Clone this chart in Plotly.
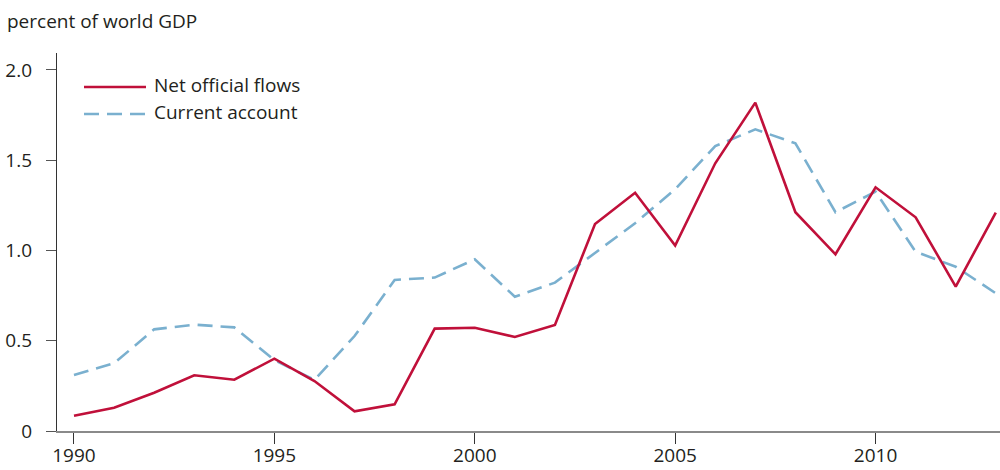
import plotly.graph_objects as go

years = list(range(1990, 2014))
net_official_flows = [0.085, 0.129, 0.212, 0.309, 0.284, 0.401, 0.277, 0.109, 0.148, 0.567,
                      0.572, 0.521, 0.587, 1.147, 1.320, 1.027, 1.483, 1.819, 1.212, 0.979,
                      1.350, 1.184, 0.800, 1.210]
current_account = [0.310, 0.375, 0.563, 0.589, 0.574, 0.393, 0.283, 0.526, 0.837, 0.850,
                   0.951, 0.744, 0.822, 0.984, 1.151, 1.340, 1.578, 1.671, 1.594, 1.212,
                   1.326, 0.993, 0.910, 0.763]
series_names = ["Net official flows", "Current account"]
x_ticks = [1990, 1995, 2000, 2005, 2010]
y_ticks = [0, 0.5, 1.0, 1.5, 2.0]
y_tick_labels = ["0", "0.5", "1.0", "1.5", "2.0"]

RED = "#C0103A"
BLUE = "#7AB0CF"
TEXT = "#231F20"
FONT = "Open Sans"
FS = 19

fig = go.Figure()
fig.add_trace(go.Scatter(x=years, y=current_account, mode="lines", name=series_names[1],
                         line=dict(color=BLUE, width=2.6, dash="15px,8px"), showlegend=False))
fig.add_trace(go.Scatter(x=years, y=net_official_flows, mode="lines", name=series_names[0],
                         line=dict(color=RED, width=2.6), showlegend=False))

# manual legend (long line samples as in the reference)
W, H = 943.0, 378.0
def px(x):
    return (x - 57) / W
def py(y):
    return (431 - y) / H

fig.add_shape(type="line", xref="paper", yref="paper", x0=px(84), x1=px(146), y0=py(87), y1=py(87),
              line=dict(color=RED, width=2.6))
fig.add_shape(type="line", xref="paper", yref="paper", x0=px(84), x1=px(146), y0=py(114), y1=py(114),
              line=dict(color=BLUE, width=2.6, dash="15px,8px"))
fig.add_annotation(xref="paper", yref="paper", x=px(152), y=py(85), text=series_names[0],
                   showarrow=False, xanchor="left", yanchor="middle",
                   font=dict(family=FONT, size=FS, color=TEXT))
fig.add_annotation(xref="paper", yref="paper", x=px(152), y=py(112), text=series_names[1],
                   showarrow=False, xanchor="left", yanchor="middle",
                   font=dict(family=FONT, size=FS, color=TEXT))

fig.update_layout(
    width=1000, height=470,
    margin=dict(l=57, r=0, t=53, b=39, autoexpand=False),
    paper_bgcolor="white", plot_bgcolor="white",
    font=dict(family=FONT, size=FS, color=TEXT),
    title=dict(text="percent of world GDP", x=0.007, xanchor="left", y=1 - 21 / 470, yanchor="middle",
               font=dict(family=FONT, size=FS, color=TEXT)),
    showlegend=False,
)
fig.update_xaxes(range=[1989.576, 2013.105], tickvals=x_ticks, ticktext=[str(t) for t in x_ticks],
                 automargin=False,
                 showgrid=False, zeroline=False, showline=True, linecolor="#8A8A8A", linewidth=2,
                 ticks="outside", ticklen=11, tickwidth=1.2, tickcolor="#333333",
                 ticklabelstandoff=-5,
                 tickfont=dict(family=FONT, size=FS, color=TEXT))
fig.update_yaxes(range=[0, 2.094], tickvals=y_ticks, ticktext=y_tick_labels,
                 automargin=False,
                 showgrid=False, zeroline=False, showline=True, linecolor="#333333", linewidth=1.3,
                 ticks="outside", ticklen=10, tickwidth=1.2, tickcolor="#555555",
                 ticklabelstandoff=10,
                 tickfont=dict(family=FONT, size=FS, color=TEXT))

fig.write_html("out.html", config={"displayModeBar": False},
               post_script="document.body.style.margin='0';document.body.style.overflow='hidden';")
